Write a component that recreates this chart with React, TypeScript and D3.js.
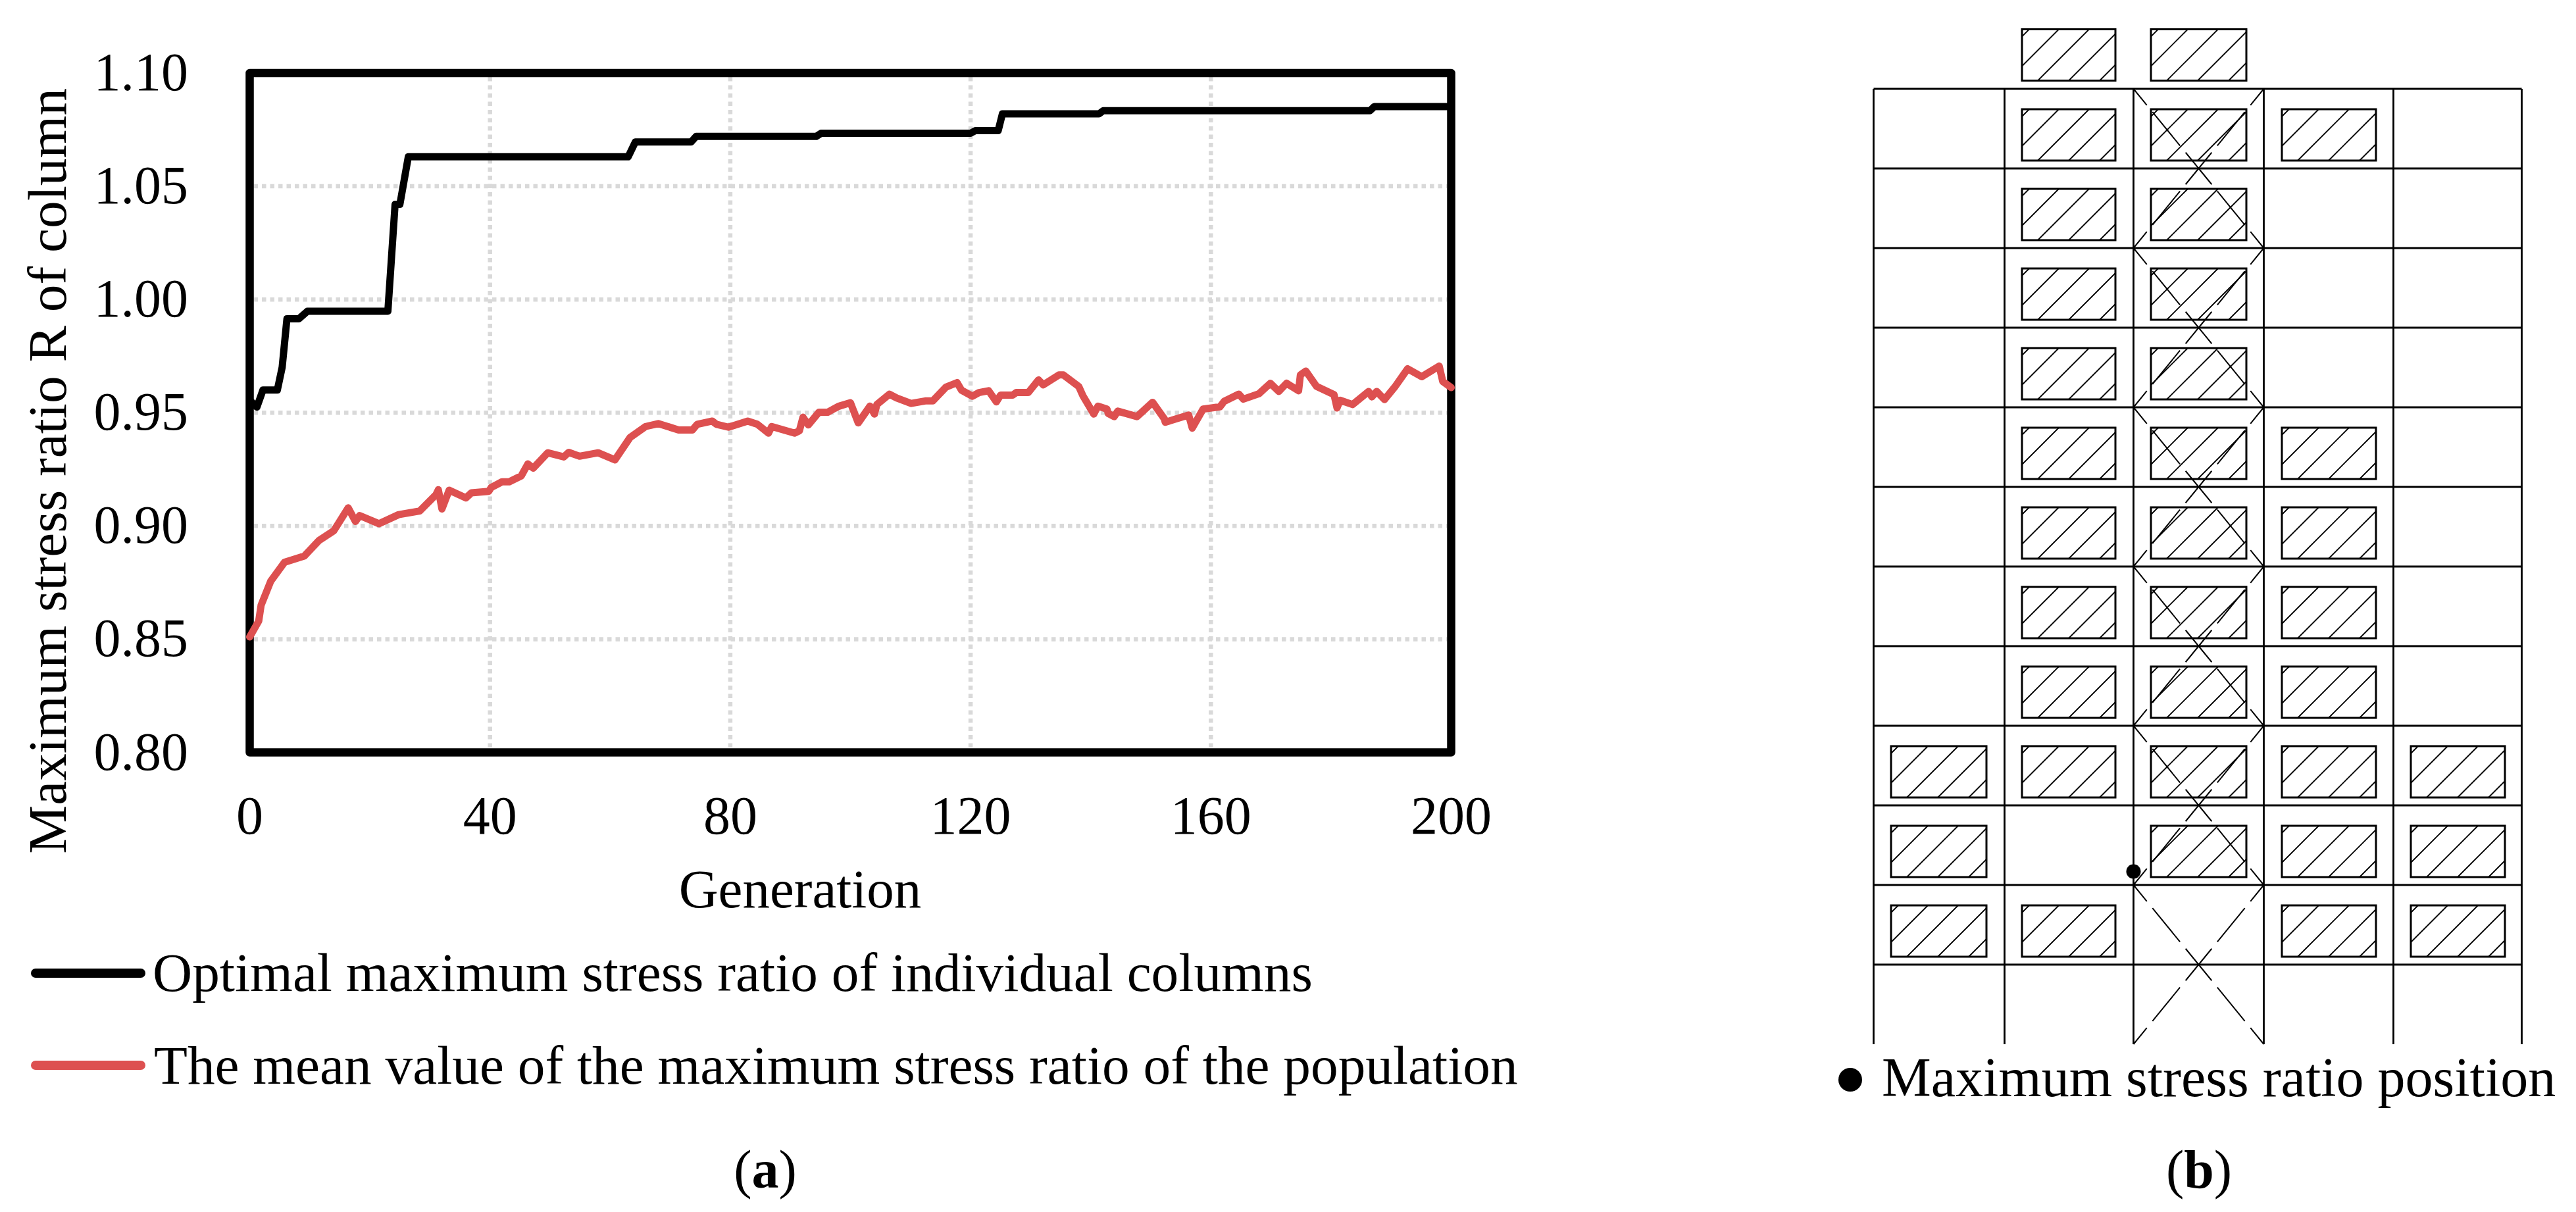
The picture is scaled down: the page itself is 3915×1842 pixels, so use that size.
import React from "react";
import * as d3 from "d3";

const FONT = "'Liberation Serif', 'Times New Roman', serif";

// (a) chart data
const yTicks = [0.8, 0.85, 0.9, 0.95, 1.0, 1.05, 1.1];
const xTicks = [0, 40, 80, 120, 160, 200];
const bestGen = [0, 1.2, 2.2, 4.6, 5.4, 6.2, 8.2, 9.6, 23, 24.2, 25, 26.4, 63, 64.2, 73.5, 74.3, 94.3, 95.1, 120, 120.8, 124.6, 125.3, 141.4, 142.1, 186.5, 187.2, 200];
const bestVal = [0.9555, 0.9525, 0.96, 0.96, 0.97, 0.9915, 0.9915, 0.9948, 0.9948, 1.042, 1.042, 1.063, 1.063, 1.0696, 1.0696, 1.072, 1.072, 1.0734, 1.0734, 1.0746, 1.0746, 1.082, 1.082, 1.0834, 1.0834, 1.0852, 1.0852];
const meanGen = [0, 1.5, 1.9, 3.5, 5.8, 9.1, 11.5, 14, 16.4, 17.6, 18.3, 21.5, 24.8, 28.3, 31, 31.4, 32, 33.2, 36, 36.9, 39.8, 40.2, 42, 43.2, 45.2, 46.3, 47.2, 49.6, 52.3, 53.1, 54.9, 58, 60.8, 63.3, 65.9, 68, 71.4, 73.7, 74.5, 77, 77.7, 79.7, 82.9, 84.5, 86.35, 86.9, 90.7, 91.5, 92.1, 93, 94.75, 96.2, 98, 100, 101.3, 103.25, 104, 104.4, 106.5, 107.7, 110.1, 112.45, 113.7, 115.9, 117.75, 118.5, 120.3, 121.4, 123, 124.3, 125, 127, 127.6, 129.6, 131.3, 132.1, 134.7, 135.45, 138, 138.7, 140.5, 141.2, 142.7, 142.9, 143.9, 144.5, 147.7, 150.3, 152.25, 152.4, 156.3, 156.9, 158.7, 161.5, 162.2, 164.65, 165.4, 168, 169.9, 171.3, 172.6, 174.6, 174.9, 175.8, 177.6, 180.5, 181, 181.5, 183.6, 186.25, 186.8, 187.6, 188.9, 190.6, 192.75, 195.1, 198, 198.6, 200];
const meanVal = [0.851, 0.858, 0.865, 0.8756, 0.884, 0.8867, 0.8935, 0.8979, 0.908, 0.902, 0.9046, 0.901, 0.905, 0.9066, 0.9138, 0.916, 0.9075, 0.9158, 0.9124, 0.9146, 0.9153, 0.917, 0.9195, 0.9195, 0.9221, 0.9274, 0.9255, 0.9323, 0.9305, 0.9325, 0.9308, 0.9323, 0.9292, 0.939, 0.9439, 0.9452, 0.9424, 0.9424, 0.9449, 0.9463, 0.9449, 0.9436, 0.9463, 0.9449, 0.941, 0.9439, 0.941, 0.942, 0.948, 0.9446, 0.9502, 0.9502, 0.9528, 0.9544, 0.9455, 0.9529, 0.9494, 0.9536, 0.9582, 0.9565, 0.9541, 0.9552, 0.9552, 0.9613, 0.9633, 0.9599, 0.9573, 0.9589, 0.9597, 0.9548, 0.9578, 0.9578, 0.9589, 0.9589, 0.9645, 0.9623, 0.9667, 0.9667, 0.9616, 0.9575, 0.9494, 0.9529, 0.9516, 0.9497, 0.9483, 0.9507, 0.9483, 0.9546, 0.9473, 0.9458, 0.949, 0.9432, 0.9516, 0.9526, 0.955, 0.9582, 0.956, 0.9584, 0.963, 0.9594, 0.963, 0.9597, 0.9667, 0.9684, 0.9616, 0.958, 0.9521, 0.9555, 0.9536, 0.9594, 0.957, 0.9594, 0.9558, 0.9613, 0.9694, 0.9659, 0.9706, 0.9638, 0.9611];
const yTitle = "Maximum stress ratio R of column";
const xTitle = "Generation";
const legendLabels = ["Optimal maximum stress ratio of individual columns", "The mean value of the maximum stress ratio of the population"];

// (b) frame data
const bayEdges = [2847.5, 3046.5, 3242.5, 3440.5, 3637.5, 3832.5];
const floorCount = 12;
const boxColumns = [0, 1, 2, 3, 4];
const boxLeft = [2874, 3073, 3269, 3468, 3664];
const boxWidth = [145, 142, 145, 143, 143];
// [floor, column]; floor -1 stands on the roof
const wallBoxes: [number, number][] = [
  [-1, 1], [-1, 2],
  [0, 1], [0, 2], [0, 3],
  [1, 1], [1, 2], [2, 1], [2, 2], [3, 1], [3, 2],
  [4, 1], [4, 2], [4, 3], [5, 1], [5, 2], [5, 3], [6, 1], [6, 2], [6, 3], [7, 1], [7, 2], [7, 3],
  [8, 0], [8, 1], [8, 2], [8, 3], [8, 4],
  [9, 0], [9, 2], [9, 3], [9, 4],
  [10, 0], [10, 1], [10, 3], [10, 4],
];
const hatchOffsets = [-67, -22, 24, 71, 118];
const braceStories = [0, 2, 4, 6, 8, 10];
const maxStressFloorEdge = 9.83;

const W = 3915;
const H = 1842;
const x = d3.scaleLinear().domain([0, 200]).range([379.5, 2205.5]);
const y = d3.scaleLinear().domain([0.8, 1.1]).range([1143.5, 111]);
const floorY = d3.scaleLinear().domain([0, floorCount]).range([135, 1587]);
const lineGen = d3.line<[number, number]>().x((d) => x(d[0])).y((d) => y(d[1])).curve(d3.curveLinear);
const pair = (a: number[], b: number[]) => a.map((v, i) => [v, b[i]] as [number, number]);

const BOX_H = 78;
const BOX_TOP = 31;

function WallBox({ floor, col }: { floor: number; col: number }) {
  const x0 = boxLeft[col];
  const w = boxWidth[col];
  const top = floor < 0 ? 44.5 : floorY(floor) + BOX_TOP;
  const bottom = top + BOX_H;
  const segs = hatchOffsets.map((d) => {
    let x1 = d, y1 = BOX_H, x2 = d + BOX_H, y2 = 0;
    if (x1 < 0) { y1 = BOX_H + x1; x1 = 0; }
    if (x2 > w) { y2 = x2 - w; x2 = w; }
    return [x0 + x1, top + y1, x0 + x2, top + y2];
  });
  return (
    <g>
      <rect x={x0} y={top} width={w} height={bottom - top} fill="#fff" stroke="#000" strokeWidth={3} />
      {segs.map((s, i) => (
        <line key={i} x1={s[0]} y1={s[1]} x2={s[2]} y2={s[3]} stroke="#000" strokeWidth={1.8} />
      ))}
    </g>
  );
}

export default function App() {
  const left = bayEdges[2];
  const right = bayEdges[3];
  const mid = (left + right) / 2;
  return (
    <svg width={W} height={H} viewBox={`0 0 ${W} ${H}`} style={{ position: "absolute", left: 0, top: 0, display: "block", background: "#fff" }} fontFamily={FONT} fill="#000">
      {/* (a) */}
      <g stroke="#d9d9d9" strokeWidth={6.5} strokeDasharray="6.5 6">
        {yTicks.slice(1, -1).map((t) => (
          <line key={t} x1={x(0) + 6} x2={x(200) - 6} y1={y(t)} y2={y(t)} />
        ))}
        {xTicks.slice(1, -1).map((t) => (
          <line key={t} x1={x(t)} x2={x(t)} y1={y(1.1) + 6} y2={y(0.8) - 6} />
        ))}
      </g>
      <rect x={x(0)} y={y(1.1)} width={x(200) - x(0)} height={y(0.8) - y(1.1)} fill="none" stroke="#000" strokeWidth={12.5} strokeLinejoin="round" />
      <path d={lineGen(pair(bestGen, bestVal)) || ""} fill="none" stroke="#000" strokeWidth={11} strokeLinejoin="round" strokeLinecap="round" />
      <path d={lineGen(pair(meanGen, meanVal)) || ""} fill="none" stroke="#dd5050" strokeWidth={11} strokeLinejoin="round" strokeLinecap="round" />
      <g fontSize={82}>
        {yTicks.map((t) => (
          <text key={t} x={286} y={y(t) + 26} textAnchor="end">{t.toFixed(2)}</text>
        ))}
        {xTicks.map((t) => (
          <text key={t} x={x(t)} y={1267} textAnchor="middle">{t}</text>
        ))}
        <text x={1216} y={1379} textAnchor="middle" fontSize={83}>{xTitle}</text>
        <text transform="translate(100,716) rotate(-90)" textAnchor="middle" fontSize={83.3}>{yTitle}</text>
        <text x={232} y={1505.5} fontSize={83.3}>{legendLabels[0]}</text>
        <text x={234} y={1646.5} fontSize={83.3}>{legendLabels[1]}</text>
        <text x={1163} y={1805} textAnchor="middle">(<tspan fontWeight="bold">a</tspan>)</text>
        <text x={3342} y={1805} textAnchor="middle">(<tspan fontWeight="bold">b</tspan>)</text>
      </g>
      <line x1={54} x2={214} y1={1479} y2={1479} stroke="#000" strokeWidth={14} strokeLinecap="round" />
      <line x1={54} x2={214} y1={1619} y2={1619} stroke="#dd5050" strokeWidth={14} strokeLinecap="round" />

      {/* (b) */}
      <g stroke="#000" strokeWidth={2.8}>
        {d3.range(floorCount).map((f) => (
          <line key={f} x1={bayEdges[0]} x2={bayEdges[5]} y1={floorY(f)} y2={floorY(f)} />
        ))}
        {bayEdges.map((e) => (
          <line key={e} x1={e} x2={e} y1={floorY(0)} y2={floorY(floorCount)} />
        ))}
      </g>
      {wallBoxes.map(([f, c]) => (
        <WallBox key={`${f}-${c}`} floor={f} col={boxColumns[c]} />
      ))}
      <g stroke="#000" strokeWidth={2} fill="none" strokeDasharray="66 13.5" strokeDashoffset={34}>
        {braceStories.map((s) => (
          <g key={s}>
            <line x1={left} y1={floorY(s)} x2={mid} y2={floorY(s + 1)} />
            <line x1={right} y1={floorY(s)} x2={mid} y2={floorY(s + 1)} />
            <line x1={left} y1={floorY(s + 2)} x2={mid} y2={floorY(s + 1)} />
            <line x1={right} y1={floorY(s + 2)} x2={mid} y2={floorY(s + 1)} />
          </g>
        ))}
      </g>
      <circle cx={left} cy={floorY(maxStressFloorEdge)} r={11} fill="#000" />
      <circle cx={2812} cy={1641} r={18} fill="#000" />
      <text x={2860} y={1666} fontSize={84}>Maximum stress ratio position</text>
    </svg>
  );
}
